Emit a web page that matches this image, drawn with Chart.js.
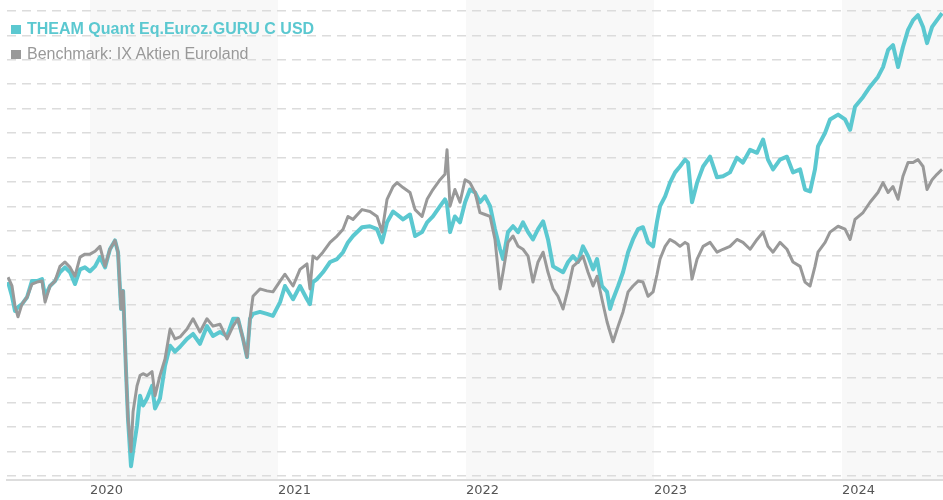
<!DOCTYPE html>
<html>
<head>
<meta charset="utf-8">
<script src="https://cdn.jsdelivr.net/npm/chart.js@4.4.1/dist/chart.umd.min.js"></script>
<style>
  html, body { margin: 0; padding: 0; background: #fff; }
  #wrap { position: relative; width: 943px; height: 500px; }
  canvas { position: absolute; left: 0; top: 0; }
  .leg { position: absolute; left: 11px; font-family: "Liberation Sans", Arial, sans-serif; font-size: 16px; line-height: 18px; white-space: nowrap; }
  .leg .sq { display: inline-block; width: 10px; height: 9px; margin-right: 6px; vertical-align: baseline; }
  #leg1 { top: 20px; color: #5bc8d0; font-weight: bold; }
  #leg1 .sq { background: #5bc8d0; }
  #leg2 { top: 45px; color: #999999; }
  #leg2 .sq { background: #999999; }
</style>
</head>
<body>
<div id="wrap">
  <canvas id="c" width="943" height="500"></canvas>
  <div class="leg" id="leg1"><span class="sq"></span>THEAM Quant Eq.Euroz.GURU C USD</div>
  <div class="leg" id="leg2"><span class="sq"></span>Benchmark: IX Aktien Euroland</div>
</div>
<script>
// ---- data (decimal years; indexed values) ----
const dates = [
  2019.564, 2019.585, 2019.601, 2019.617, 2019.638, 2019.665, 2019.691, 2019.718, 2019.745, 2019.761,
  2019.787, 2019.814, 2019.840, 2019.867, 2019.894, 2019.920, 2019.947, 2019.973, 2020.000, 2020.027,
  2020.053, 2020.080, 2020.106, 2020.133, 2020.149, 2020.165, 2020.176, 2020.191, 2020.202, 2020.218,
  2020.229, 2020.250, 2020.266, 2020.282, 2020.303, 2020.330, 2020.346, 2020.372, 2020.399, 2020.426,
  2020.452, 2020.479, 2020.516, 2020.548, 2020.585, 2020.622, 2020.654, 2020.691, 2020.729, 2020.761,
  2020.787, 2020.814, 2020.835, 2020.851, 2020.867, 2020.904, 2020.941, 2020.973, 2021.011, 2021.037,
  2021.080, 2021.117, 2021.154, 2021.170, 2021.186, 2021.207, 2021.239, 2021.277, 2021.314, 2021.346,
  2021.372, 2021.399, 2021.447, 2021.489, 2021.527, 2021.553, 2021.580, 2021.612, 2021.633, 2021.665,
  2021.702, 2021.729, 2021.766, 2021.793, 2021.824, 2021.862, 2021.888, 2021.899, 2021.915, 2021.941,
  2021.968, 2021.995, 2022.021, 2022.048, 2022.074, 2022.101, 2022.128, 2022.154, 2022.181, 2022.197,
  2022.223, 2022.250, 2022.277, 2022.303, 2022.330, 2022.356, 2022.383, 2022.410, 2022.436, 2022.463,
  2022.489, 2022.516, 2022.543, 2022.569, 2022.596, 2022.622, 2022.649, 2022.676, 2022.697, 2022.723,
  2022.750, 2022.766, 2022.782, 2022.809, 2022.835, 2022.862, 2022.888, 2022.915, 2022.941, 2022.968,
  2022.995, 2023.016, 2023.032, 2023.059, 2023.085, 2023.112, 2023.138, 2023.165, 2023.181, 2023.202,
  2023.229, 2023.261, 2023.298, 2023.335, 2023.367, 2023.404, 2023.441, 2023.473, 2023.511, 2023.548,
  2023.580, 2023.606, 2023.633, 2023.670, 2023.707, 2023.739, 2023.777, 2023.803, 2023.830, 2023.856,
  2023.872, 2023.910, 2023.936, 2023.979, 2024.016, 2024.043, 2024.069, 2024.112, 2024.149, 2024.191,
  2024.218, 2024.245, 2024.271, 2024.298, 2024.324, 2024.351, 2024.378, 2024.404, 2024.431, 2024.452,
  2024.479, 2024.505, 2024.532
];

const fundValues = [
   99.6,  96.7,  93.7,  94.5,  95.1,  96.5,  99.8,  99.8, 100.2,  96.7,
   98.8,  99.8, 101.6, 102.6, 101.6,  99.2, 102.2, 102.6, 101.8, 102.8,
  104.7, 102.6, 106.3, 108.1, 105.7,  94.1,  97.8,  81.9,  71.7,  62.0,
   65.0,  70.3,  76.4,  74.4,  75.8,  78.4,  73.8,  75.8,  82.5,  86.6,
   85.4,  86.4,  88.0,  89.0,  87.0,  90.6,  88.6,  89.4,  88.6,  92.1,
   92.1,  88.0,  84.3,  92.1,  93.1,  93.5,  93.1,  92.7,  95.5,  98.8,
   96.1,  98.8,  96.1,  95.1,  99.6, 100.2, 101.6, 103.7, 104.3, 105.7,
  107.7, 109.0, 110.8, 111.0, 110.4, 107.7, 111.8, 114.0, 113.4, 112.4,
  113.4, 109.0, 109.8, 111.8, 113.0, 115.1, 116.5, 115.5, 109.8, 113.0,
  111.8, 115.9, 118.5, 117.9, 115.9, 117.1, 115.1, 110.4, 106.3, 104.3,
  109.8, 111.0, 109.8, 111.8, 109.8, 108.3, 110.4, 112.0, 108.3, 102.8,
  102.2, 101.6, 103.7, 104.9, 103.7, 106.9, 104.9, 102.2, 104.3,  98.8,
   97.6,  94.1,  96.1,  98.8, 101.6, 105.7, 108.3, 110.4, 110.8, 107.7,
  106.9, 112.0, 115.1, 117.1, 119.9, 122.0, 123.2, 124.6, 124.0, 115.9,
  119.9, 123.2, 125.2, 121.0, 121.2, 122.0, 125.0, 124.0, 126.6, 126.0,
  128.7, 124.6, 122.6, 124.6, 125.2, 122.0, 122.6, 118.5, 118.1, 122.6,
  127.3, 130.1, 132.8, 133.8, 132.8, 130.7, 135.4, 137.4, 139.5, 141.5,
  143.5, 147.0, 148.0, 143.5, 147.6, 151.1, 153.1, 154.1, 151.7, 148.4,
  151.7, 153.1, 154.5
];

const benchValues = [
  100.6,  98.8,  94.7,  92.5,  95.1,  96.5,  99.2,  99.6,  99.8,  95.5,
   98.8,  99.8, 102.8, 103.7, 102.6, 100.8, 104.7, 105.3, 105.3, 105.9,
  106.9, 102.8, 106.3, 108.1, 105.7,  94.1,  97.8,  81.9,  71.7,  65.0,
   73.1,  78.4,  80.5,  80.9,  80.5,  81.3,  76.4,  80.5,  83.9,  90.0,
   88.0,  88.4,  90.0,  92.1,  89.4,  92.1,  90.6,  91.0,  88.0,  90.6,
   92.1,  88.0,  84.3,  92.1,  96.7,  98.2,  97.8,  97.6,  99.8, 101.2,
   98.8, 102.2, 103.3,  98.2, 104.9, 104.3, 105.7, 107.7, 109.0, 110.4,
  113.0, 112.4, 114.4, 114.0, 113.0, 109.8, 116.5, 119.1, 119.9, 118.9,
  117.9, 114.4, 113.0, 116.5, 118.5, 120.5, 121.6, 126.6, 115.1, 118.5,
  115.9, 120.5, 119.9, 117.9, 113.8, 113.4, 113.0, 108.3,  98.2, 101.6,
  107.7, 109.0, 106.9, 106.3, 104.9,  99.6, 103.7, 105.7, 101.6,  98.2,
   96.7,  94.1,  98.2, 102.8, 103.7, 104.9, 101.6,  98.8, 100.8,  96.1,
   91.5,  89.4,  87.4,  90.6,  93.5,  97.6,  98.8,  99.8,  99.6,  96.7,
   97.6, 101.2, 104.3, 106.9, 108.3, 107.7, 106.9, 107.7, 107.3, 100.2,
  104.3, 106.9, 107.7, 105.7, 106.3, 106.9, 108.3, 107.7, 106.3, 108.3,
  109.8, 106.9, 105.7, 107.7, 106.3, 103.7, 102.8,  99.6,  98.8, 102.8,
  105.7, 107.7, 109.8, 111.0, 110.4, 108.3, 112.4, 113.8, 115.9, 117.9,
  119.9, 117.9, 119.1, 116.5, 121.2, 124.0, 124.0, 124.6, 123.2, 118.5,
  120.5, 121.6, 122.6
];

const fundLabel = "THEAM Quant Eq.Euroz.GURU C USD";
const benchLabel = "Benchmark: IX Aktien Euroland";
const yearTicks = [2020, 2021, 2022, 2023, 2024];
const shadedYears = [2020, 2022, 2024];
const gridValues = [60, 65, 70, 75, 80, 85, 90, 95, 100, 105, 110, 115, 120, 125, 130, 135, 140, 145, 150, 155];

// ---- plugin: alternating year bands ----
const yearBands = {
  id: 'yearBands',
  beforeDraw(chart) {
    const { ctx, chartArea: a, scales: { x } } = chart;
    ctx.save();
    ctx.fillStyle = '#f8f8f8';
    shadedYears.forEach(yr => {
      const x0 = Math.max(a.left, x.getPixelForValue(yr));
      const x1 = Math.min(a.right, x.getPixelForValue(yr + 1));
      if (x1 > x0) ctx.fillRect(x0, 0, x1 - x0, a.bottom);
    });
    ctx.restore();
  }
};

const pts = vals => dates.map((d, i) => ({ x: d, y: vals[i] }));

new Chart(document.getElementById('c'), {
  type: 'line',
  data: {
    datasets: [
      { label: benchLabel, data: pts(benchValues), borderColor: '#999999', borderWidth: 3,
        borderJoinStyle: 'round', pointRadius: 0, tension: 0, order: 1 },
      { label: fundLabel, data: pts(fundValues), borderColor: '#5bc8d0', borderWidth: 4,
        borderJoinStyle: 'round', pointRadius: 0, tension: 0, order: 2 }
    ]
  },
  options: {
    responsive: false,
    animation: false,
    devicePixelRatio: 1,
    layout: { padding: { left: 7, right: 0, top: 0, bottom: 0 } },
    plugins: { legend: { display: false }, tooltip: { enabled: false } },
    scales: {
      x: {
        type: 'linear',
        min: 2019.5585,
        max: 2024.537,
        afterBuildTicks: axis => { axis.ticks = yearTicks.map(v => ({ value: v })); },
        ticks: {
          callback: v => String(v),
          align: 'start',
          autoSkip: false,
          maxRotation: 0,
          padding: 2,
          color: '#555555',
          font: { family: 'DejaVu Sans', size: 13 }
        },
        grid: { display: false, drawTicks: false },
        border: { display: true, color: '#dddddd', width: 2 }
      },
      y: {
        type: 'linear',
        min: 59.1,
        max: 157.2,
        afterBuildTicks: axis => { axis.ticks = gridValues.map(v => ({ value: v })); },
        ticks: { display: false },
        grid: { color: '#dcdcdc', lineWidth: 1.5, drawTicks: false },
        border: { display: false, dash: [9, 6] }
      }
    }
  },
  plugins: [yearBands]
});
</script>
</body>
</html>
